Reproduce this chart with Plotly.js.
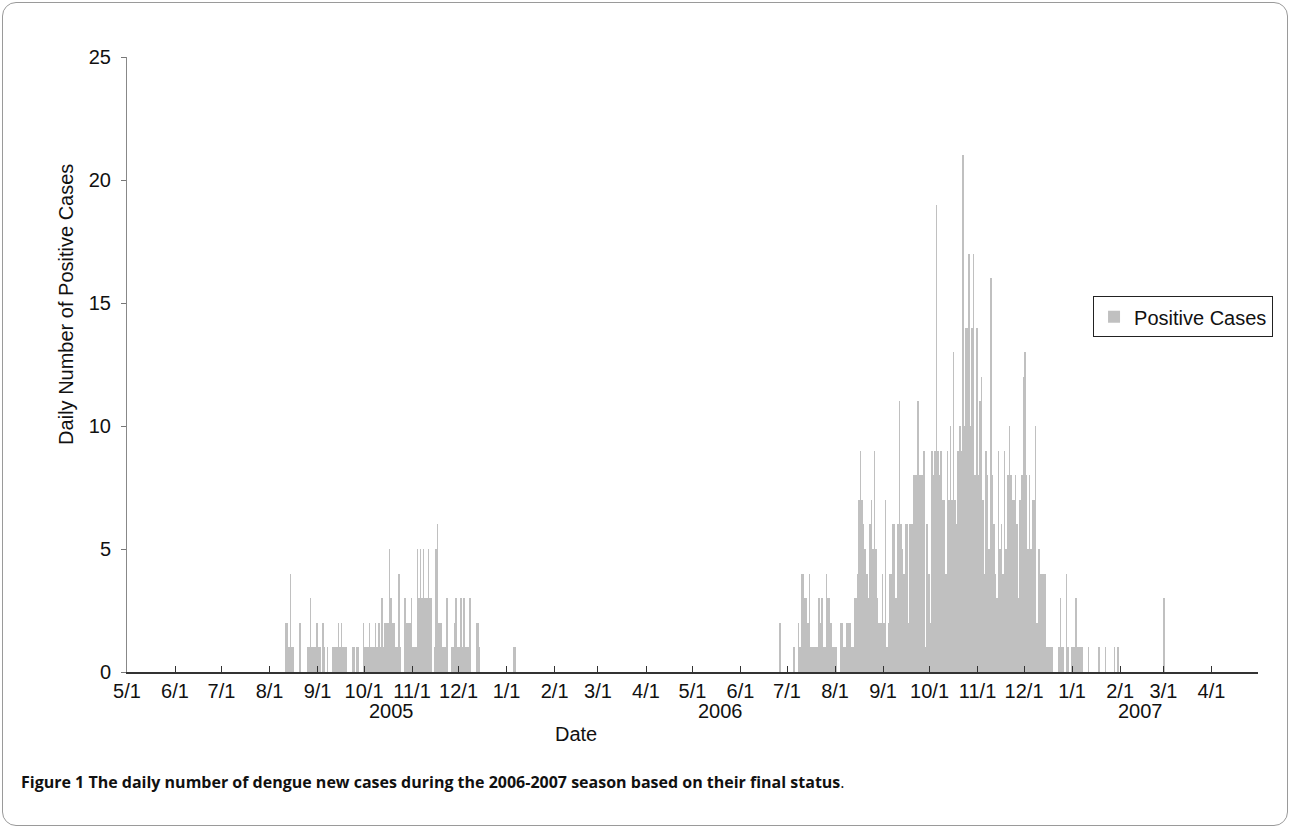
<!DOCTYPE html>
<html><head><meta charset="utf-8">
<script src="https://cdn.plot.ly/plotly-3.0.1.min.js"></script>
<style>
html,body{margin:0;padding:0;background:#fff;}
#chart{position:absolute;left:0;top:0;width:1292px;height:831px;}
#frame{position:absolute;left:2px;top:2px;width:1286px;height:824px;border:1px solid #9a9a9a;border-radius:14px;pointer-events:none;box-sizing:border-box;}
</style></head><body>
<div id="chart"></div><div id="frame"></div>
<script>
// Daily positive cases, season 2005 (first value = 2005-08-11)
const start2005 = '2005-08-11';
const cases2005 = [
  2,2,1,4,1,1,0,0,0,2,
  0,0,0,0,1,1,3,1,1,1,
  2,1,1,0,2,1,0,1,0,0,
  1,1,1,1,2,1,2,1,1,1,
  0,0,0,1,1,0,1,1,0,0,
  2,1,1,1,2,1,1,1,2,1,
  2,1,3,1,2,2,2,5,3,2,
  2,1,1,4,1,0,0,3,2,2,
  2,3,1,1,1,5,3,5,3,5,
  3,3,5,3,3,0,1,5,6,2,
  2,1,1,1,3,0,0,1,1,2,
  3,1,1,3,1,3,1,1,1,3,
  0,0,0,2,2,1,0,0,0,0,
  0,0,0,0,0,0,0,0,0,0,
  0,0,0,0,0,0,0,1,1
];
// Daily positive cases, season 2006-2007 (first value = 2006-06-26)
const start2006 = '2006-06-26';
const cases2006 = [
  2,0,0,0,0,0,0,0,0,1,
  0,0,2,1,4,4,3,3,2,4,
  1,1,1,1,1,3,2,3,1,1,
  4,3,3,2,1,1,1,0,0,2,
  2,1,1,2,2,2,1,1,3,3,
  4,7,9,7,6,5,4,3,6,7,
  5,9,5,3,2,2,4,2,7,1,
  2,4,4,6,6,3,6,11,6,5,
  4,6,6,2,6,6,8,8,8,11,
  8,8,8,9,1,6,4,2,9,8,
  9,19,9,8,9,7,7,4,9,7,
  10,7,13,7,6,9,10,9,21,10,
  14,14,17,10,14,17,8,14,8,11,
  12,7,4,9,8,5,16,8,6,4,
  3,9,5,6,4,9,5,8,10,8,
  7,7,8,6,3,7,8,12,13,8,
  5,8,5,7,7,10,2,5,4,4,
  4,4,1,1,1,1,1,0,0,0,
  1,3,1,1,0,4,1,0,1,1,
  1,3,1,1,1,1,0,0,0,1,
  0,0,0,0,0,0,1,0,0,0,
  1,0,0,0,0,0,1,0,1,0,
  0,0,0,0,0,0,0,0,0,0,
  0,0,0,0,0,0,0,0,0,0,
  0,0,0,0,0,0,0,0,3
];
const tickDates = ['2005-05-01','2005-06-01','2005-07-01','2005-08-01','2005-09-01','2005-10-01','2005-11-01','2005-12-01',
  '2006-01-01','2006-02-01','2006-03-01','2006-04-01','2006-05-01','2006-06-01','2006-07-01','2006-08-01','2006-09-01',
  '2006-10-01','2006-11-01','2006-12-01','2007-01-01','2007-02-01','2007-03-01','2007-04-01'];
const tickLabels = ['5/1','6/1','7/1','8/1','9/1','10/1','11/1','12/1','1/1','2/1','3/1','4/1',
  '5/1','6/1','7/1','8/1','9/1','10/1','11/1','12/1','1/1','2/1','3/1','4/1'];
const yearLabels = ['2005','2006','2007'];
const yearDates = ['2005-10-19','2006-05-19','2007-02-14'];

const DAY = 86400000;
function dayCenters(start, n){
  const t0 = Date.parse(start + 'T00:00:00Z');
  const out = [];
  for(let i=0;i<n;i++){ out.push(new Date(t0 + i*DAY + DAY/2).toISOString().slice(0,19).replace('T',' ')); }
  return out;
}
const xs = dayCenters(start2005, cases2005.length).concat(dayCenters(start2006, cases2006.length));
const ys = cases2005.concat(cases2006);

const FONT = 'Liberation Sans, Arial, sans-serif';
const FS = 20;
const trace = {
  type:'bar', x: xs, y: ys, name:'Positive Cases',
  width: DAY, marker:{color:'#c0c0c0', line:{width:0}},
  showlegend:true, hoverinfo:'x+y'
};

const annotations = yearLabels.map((t,i)=>({
  text:t, x:yearDates[i], xref:'x', y:-0.063, yref:'paper', yanchor:'middle', xanchor:'center',
  showarrow:false, font:{family:FONT, size:FS, color:'#111'}
}));
annotations.push({text:'Date', x:0.397, xref:'paper', y:-0.1, yref:'paper', xanchor:'center', yanchor:'middle',
  showarrow:false, font:{family:FONT, size:FS, color:'#111'}});
annotations.push({text:'Daily Number of Positive Cases', x:-0.0539, xref:'paper', y:0.597, yref:'paper', textangle:-90,
  xanchor:'center', yanchor:'middle', showarrow:false, font:{family:FONT, size:FS, color:'#111'}});
annotations.push({text:'<b>Figure 1 The daily number of dengue new cases during the 2006-2007 season based on their final status</b>.',
  x:-0.0955, xref:'paper', y:-0.179, yref:'paper', xanchor:'left', yanchor:'middle', showarrow:false,
  font:{family:'Open Sans, sans-serif', size:16, color:'#111'}});

const layout = {
  width:1292, height:831,
  margin:{l:127, r:34, t:57, b:159},
  paper_bgcolor:'#fff', plot_bgcolor:'#fff',
  bargap:0,
  showlegend:true,
  legend:{x:1.0133, y:0.611, xanchor:'right', yanchor:'top', bgcolor:'#fff', bordercolor:'#222', borderwidth:1,
    font:{family:FONT, size:FS, color:'#111'}},
  xaxis:{type:'date', range:['2005-05-01','2007-05-01'], tickmode:'array', tickvals:tickDates, ticktext:tickLabels,
    ticks:'inside', ticklen:6, tickcolor:'#333', showline:true, linecolor:'#333', linewidth:1.5, showgrid:false, zeroline:false,
    tickfont:{family:FONT, size:FS, color:'#111'}, ticklabelstandoff:0},
  yaxis:{range:[0,25], tickvals:[0,5,10,15,20,25], ticks:'outside', ticklen:5, tickcolor:'#777', showline:true, linecolor:'#888',
    linewidth:1, showgrid:false, zeroline:false, tickfont:{family:FONT, size:FS, color:'#111'}, ticklabelstandoff:6},
  annotations: annotations
};
Plotly.newPlot('chart', [trace], layout, {displayModeBar:false, staticPlot:true});
</script></body></html>
